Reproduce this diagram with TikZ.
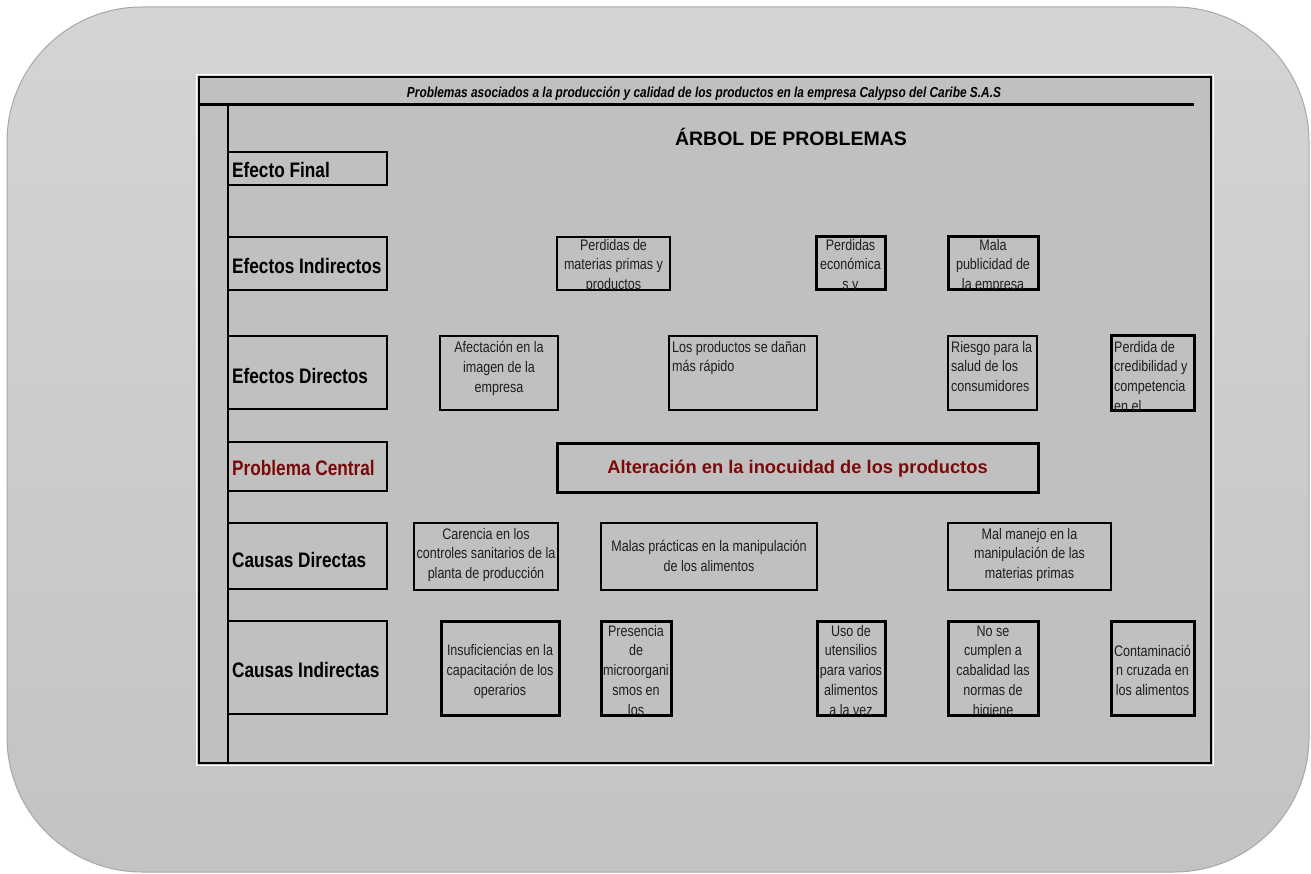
\documentclass[tikz,border=0pt]{standalone}
\usepackage{fontspec}
\setmainfont{Liberation Sans}
\newfontfamily\narrow[FakeStretch=0.82]{Liberation Sans}
\definecolor{bgtop}{RGB}{212,212,212}
\definecolor{bgbot}{RGB}{195,195,195}
\definecolor{bgline}{RGB}{168,168,168}
\definecolor{panel}{RGB}{192,192,192}
\definecolor{darkred}{RGB}{122,10,10}
\definecolor{celltext}{RGB}{30,30,30}
\tikzset{
  box/.style={draw=black, line width=1.5pt, inner sep=0pt, outer sep=0pt, anchor=north west},
  thickbox/.style={box, line width=3pt},
  ctext/.style={inner sep=0pt, text=celltext, font=\narrow\fontsize{15.3}{19.7}\selectfont},
  lbltext/.style={inner sep=0pt, anchor=base west, font=\narrow\bfseries\fontsize{21}{25}\selectfont},
}
% #1 text node name, #2 box node name, #3 anchor, #4 x, #5 first baseline, #6 align, #7 text
\newcommand\celltxt[7]{%
  \begin{scope}
    \clip (#2.north west) rectangle (#2.south east);
    \node[ctext, anchor=#3, align=#6] (#1) at (#4, #5-15) {\rule{0pt}{15pt}#7};
  \end{scope}}
% #1 name, #2 x1, #3 y1, #4 x2, #5 y2, #6 style
\newcommand\cellbox[6]{%
  \node[#6, minimum width=#4-#2, minimum height=#5-#3] (#1) at (#2,#3) {};}
\begin{document}
\begin{tikzpicture}[x=1pt,y=-1pt]
\useasboundingbox (0,0) rectangle (1311,874);
\fill[white] (0,0) rectangle (1311,874);
\draw[draw=bgline, line width=1pt, top color=bgtop, bottom color=bgbot, rounded corners=135pt] (7,7) rectangle (1309,872);
% panel
\draw[white, line width=1.2pt] (196.8,74.8) rectangle (1213.2,765.2);
\draw[fill=panel, draw=black, line width=1.5pt] (199,77) rectangle (1211,763);
\draw[line width=3pt] (199,105) -- (1194,105);
\draw[line width=1.5pt] (228,105) -- (228,763);
\node[inner sep=0pt, anchor=base, font=\narrow\bfseries\itshape\fontsize{14.5}{17}\selectfont] (hdr) at (704,98)
  {Problemas asociados a la producción y calidad de los productos en la empresa Calypso del Caribe S.A.S};
\node[inner sep=0pt, anchor=base, font=\bfseries\fontsize{19.5}{23}\selectfont] (ttl) at (791,146) {ÁRBOL DE PROBLEMAS};
% label boxes
\cellbox{lef}{228}{152}{387}{185}{box}
\cellbox{lei}{228}{237}{387}{290}{box}
\cellbox{led}{228}{336}{387}{409}{box}
\cellbox{lpc}{228}{442}{387}{491}{box}
\cellbox{lcd}{228}{523}{387}{589}{box}
\cellbox{lci}{228}{621}{387}{714}{box}
\node[lbltext] (tef) at (232,178) {Efecto Final};
\node[lbltext] (tei) at (232,274) {Efectos Indirectos};
\node[lbltext] (ted) at (232,383) {Efectos Directos};
\node[lbltext, text=darkred] (tpc) at (232,475) {Problema Central};
\node[lbltext] (tcd) at (232,567) {Causas Directas};
\node[lbltext] (tci) at (232,677) {Causas Indirectas};
% efectos indirectos
\cellbox{pmp}{557}{237}{670}{290}{box}
\celltxt{tpmp}{pmp}{north}{613.5}{250}{center}{Perdidas de\\materias primas y\\productos}
\cellbox{pe}{816}{237}{885}{290}{thickbox}
\celltxt{tpe}{pe}{north}{850.5}{250}{center}{Perdidas\\económica\\s y}
\cellbox{mp}{948}{237}{1038}{290}{thickbox}
\celltxt{tmp}{mp}{north}{993}{250}{center}{Mala\\publicidad de\\la empresa}
% efectos directos
\cellbox{af}{440}{336}{558}{410}{box}
\celltxt{taf}{af}{north}{499}{352.5}{center}{Afectación en la\\imagen de la\\empresa}
\cellbox{lp}{669}{336}{817}{410}{box}
\celltxt{tlp}{lp}{north west}{672}{352}{left}{Los productos se dañan\\más rápido}
\cellbox{rs}{948}{336}{1037}{410}{box}
\celltxt{trs}{rs}{north west}{951}{352}{left}{Riesgo para la\\salud de los\\consumidores}
\cellbox{pc}{1111}{336}{1194}{410}{thickbox}
\celltxt{tpc2}{pc}{north west}{1114}{352}{left}{Perdida de\\credibilidad y\\competencia\\en el}
% problema central
\cellbox{alt}{557}{443}{1038}{492}{thickbox}
\node[inner sep=0pt, anchor=base, text=darkred, font=\bfseries\fontsize{18.3}{22}\selectfont] (talt) at (797.5,473)
  {Alteración en la inocuidad de los productos};
% causas directas
\cellbox{car}{414}{523}{558}{590}{box}
\celltxt{tcar}{car}{north}{486}{539}{center}{Carencia en los\\controles sanitarios de la\\planta de producción}
\cellbox{mal}{601}{523}{817}{590}{box}
\celltxt{tmal}{mal}{north}{709}{551.5}{center}{Malas prácticas en la manipulación\\de los alimentos}
\cellbox{mm}{948}{523}{1111}{590}{box}
\celltxt{tmm}{mm}{north}{1029.5}{539}{center}{Mal manejo en la\\manipulación de las\\materias primas}
% causas indirectas
\cellbox{ins}{441}{621}{559}{715}{thickbox}
\celltxt{tins}{ins}{north}{500}{655.5}{center}{Insuficiencias en la\\capacitación de los\\operarios}
\cellbox{pre}{601}{621}{671}{715}{thickbox}
\celltxt{tpre}{pre}{north}{636}{636}{center}{Presencia\\de\\microorgani\\smos en\\los}
\cellbox{uso}{817}{621}{885}{715}{thickbox}
\celltxt{tuso}{uso}{north}{851}{636}{center}{Uso de\\utensilios\\para varios\\alimentos\\a la vez}
\cellbox{nos}{948}{621}{1038}{715}{thickbox}
\celltxt{tnos}{nos}{north}{993}{636}{center}{No se\\cumplen a\\cabalidad las\\normas de\\higiene}
\cellbox{con}{1111}{621}{1194}{715}{thickbox}
\celltxt{tcon}{con}{north}{1152.5}{656}{center}{Contaminació\\n cruzada en\\los alimentos}
\end{tikzpicture}
\end{document}
